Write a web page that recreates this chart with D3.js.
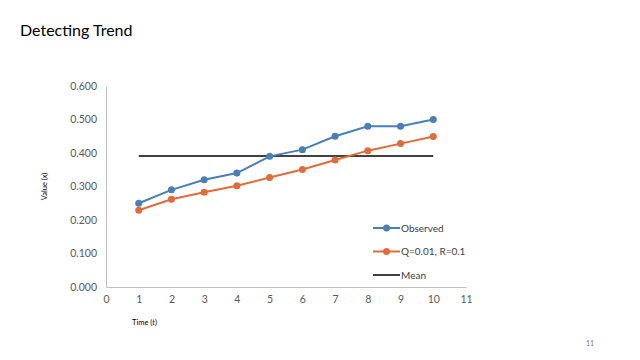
<!DOCTYPE html>
<html>
<head>
<meta charset="utf-8">
<script src="https://cdn.jsdelivr.net/npm/d3@7"></script>
<style>
  body { margin: 0; background: #fff; }
  svg { font-family: Lato, "Open Sans", sans-serif; }
</style>
</head>
<body>
<svg id="chart"></svg>
<script>
// chart data
const times = [1, 2, 3, 4, 5, 6, 7, 8, 9, 10];
const observed = [0.25, 0.29, 0.32, 0.34, 0.39, 0.41, 0.45, 0.48, 0.48, 0.50];
const filtered = [0.229, 0.262, 0.283, 0.302, 0.327, 0.351, 0.379, 0.407, 0.428, 0.449];
const meanValue = 0.391;
const xTicks = [0, 1, 2, 3, 4, 5, 6, 7, 8, 9, 10, 11];
const yTicks = [0, 0.1, 0.2, 0.3, 0.4, 0.5, 0.6];
const legendLabels = ["Observed", "Q=0.01, R=0.1", "Mean"];

const W = 640, H = 360;
const margin = {top: 86, left: 106, right: 174, bottom: 73};
const width = W - margin.left - margin.right;
const height = H - margin.top - margin.bottom;

const blue = "#4a7fb5", orange = "#e06c3c";

const svg = d3.select("#chart").attr("width", W).attr("height", H);

svg.append("text")
  .attr("x", 20).attr("y", 36)
  .attr("font-size", "16px")
  .attr("fill", "#000")
  .text("Detecting Trend");

const g = svg.append("g")
  .attr("transform", `translate(${margin.left},${margin.top})`);

const x = d3.scaleLinear().domain([0, 11]).range([0, width]);
const y = d3.scaleLinear().domain([0, 0.6]).range([height, 0]);

// axes
const xAxis = g.append("g")
  .attr("transform", `translate(0,${height})`)
  .call(d3.axisBottom(x).tickValues(xTicks).tickSize(0).tickPadding(9).tickFormat(d3.format("d")));
const yAxis = g.append("g")
  .call(d3.axisLeft(y).tickValues(yTicks).tickSize(0).tickPadding(9).tickFormat(d3.format(".3f")));

[xAxis, yAxis].forEach(a => {
  a.select(".domain").attr("stroke", "#bfbfbf");
  a.selectAll("text").attr("fill", "#595959").attr("font-size", "10.5px")
    .attr("font-family", "Lato, sans-serif");
});

// axis titles
svg.append("text")
  .attr("transform", `translate(47,${margin.top + height / 2}) rotate(-90)`)
  .attr("text-anchor", "middle")
  .attr("font-size", "7.5px").attr("fill", "#000")
  .html("Value (<tspan font-style='italic'>x</tspan>)");

svg.append("text")
  .attr("x", 132).attr("y", 325)
  .attr("font-size", "7.5px").attr("fill", "#000")
  .html("Time (<tspan font-style='italic'>t</tspan>)");

// mean line
g.append("line")
  .attr("x1", x(times[0])).attr("x2", x(times[times.length - 1]))
  .attr("y1", y(meanValue)).attr("y2", y(meanValue))
  .attr("stroke", "#000").attr("stroke-width", 1.5);

const line = d3.line().x((d, i) => x(times[i])).y(d => y(d));

[[observed, blue], [filtered, orange]].forEach(([vals, color]) => {
  g.append("path")
    .datum(vals)
    .attr("d", line)
    .attr("fill", "none")
    .attr("stroke", color)
    .attr("stroke-width", 2);
  g.selectAll(null)
    .data(vals)
    .join("circle")
    .attr("cx", (d, i) => x(times[i]))
    .attr("cy", d => y(d))
    .attr("r", 3.5)
    .attr("fill", color);
});

// legend
const legendColors = [blue, orange, "#000"];
const legend = svg.append("g").attr("transform", "translate(373,228)");
legendLabels.forEach((label, i) => {
  const row = legend.append("g").attr("transform", `translate(0,${i * 23.5})`);
  row.append("line")
    .attr("x1", 0).attr("x2", 27)
    .attr("stroke", legendColors[i]).attr("stroke-width", i === 2 ? 1.5 : 2);
  if (i < 2) {
    row.append("circle").attr("cx", 13.5).attr("cy", 0).attr("r", 3.5).attr("fill", legendColors[i]);
  }
  row.append("text")
    .attr("x", 28).attr("y", 3.5)
    .attr("font-size", "10px").attr("fill", "#404040")
    .text(label);
});

// slide number
svg.append("text")
  .attr("x", 586).attr("y", 346)
  .attr("font-size", "7px").attr("fill", "#777")
  .text("11");
</script>
</body>
</html>
